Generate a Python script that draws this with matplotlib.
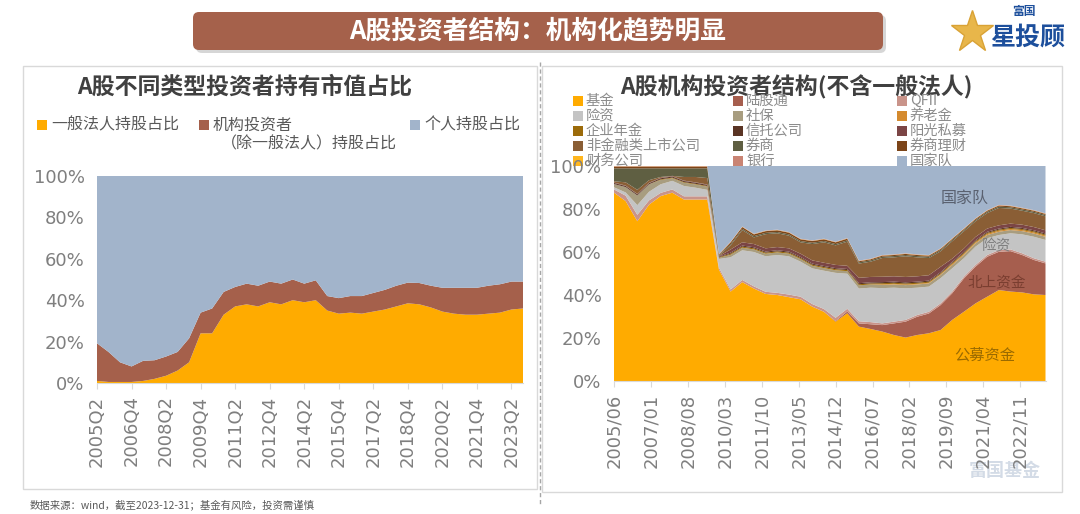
import numpy as np
import matplotlib
matplotlib.use('Agg')
from matplotlib import pyplot as plt
from matplotlib.patches import FancyBboxPatch, Rectangle

plt.rcParams['font.family'] = ['Noto Sans CJK SC', 'DejaVu Sans']

# ---------------- left chart: holdings share by investor type (semiannual) ----------------
left_periods = [f'{y}Q{q}' for y in range(2005, 2024) for q in (2, 4)]
left_ticks = ['2005Q2', '2006Q4', '2008Q2', '2009Q4', '2011Q2', '2012Q4', '2014Q2',
              '2015Q4', '2017Q2', '2018Q4', '2020Q2', '2021Q4', '2023Q2']
corp_share = [1, 0.5, 0.5, 0.5, 1, 2, 3.5, 6, 10, 24, 24, 33, 37, 38, 37, 39, 38, 40, 39,
              40, 35, 33.5, 34, 33.5, 34.5, 35.5, 37, 38.5, 38, 36.5, 34.5, 33.5, 33, 33,
              33.5, 34, 35.5, 36]
inst_share = [18.2, 14.5, 9.5, 7.5, 9.7, 9, 9.3, 9, 11.6, 10, 12, 11, 9.4, 10, 10, 10, 10,
              10, 9, 9.6, 7, 7.5, 8, 8.5, 9, 9.5, 10, 10, 10.3, 10.5, 11.5, 12.5, 13, 13,
              13.5, 13.7, 13.5, 13]
retail_share = [80.8, 85, 90, 92, 89.3, 89, 87.2, 85, 78.4, 66, 64, 56, 53.6, 52, 53, 51,
                52, 50, 52, 50.4, 58, 59, 58, 58, 56.5, 55, 53, 51.5, 51.7, 53, 54, 54, 54,
                54, 53, 52.3, 51, 51]
left_names = ['一般法人持股占比', '机构投资者\n（除一般法人）持股占比', '个人持股占比']
left_colors = ['#FFAB00', '#A5604B', '#A2B4CB']

# ---------------- right chart: institutional structure (semiannual) ----------------
right_dates = [f'{y}/{m:02d}' for y in range(2005, 2024) for m in (6, 12)]
right_ticks = ['2005/06', '2007/01', '2008/08', '2010/03', '2011/10', '2013/05', '2014/12',
               '2016/07', '2018/02', '2019/09', '2021/04', '2022/11']

fund = [87.6, 83.7, 74.3, 82, 86, 87.6, 84.4, 84.4, 84.4, 52, 42.5, 46, 43, 40.5, 40, 39,
        38, 34.6, 32.2, 27.6, 31.5, 25.3, 24.2, 23, 21.4, 20.2, 21.4, 22.2, 23.7, 28.4,
        32.2, 36.1, 39.2, 42.3, 41.6, 41.2, 40.3, 40]
hk_connect = [0, 0, 0, 0, 0, 0, 0, 0, 0, 0, 0, 0, 0, 0, 0, 0, 0, 0, 0, 0.3, 0.8, 1.5, 2.2,
              3, 5.4, 7.4, 8.5, 9.2, 11.6, 12.4, 15.5, 17.1, 18.6, 17.8, 18.8, 17.4, 16, 14.7]
qfii = [1.5, 2.5, 3, 2, 1.5, 1.5, 1.5, 1.5, 1.5, 1, 1, 1, 1, 1, 1, 1.2, 1.2, 1.2, 1.3, 1.5,
        1.3, 1, 1, 0.8, 0.8, 0.8, 0.8, 0.8, 0.8, 0.8, 0.8, 0.8, 0.8, 0.8, 0.8, 0.8, 0.8, 0.8]
insurance = [1, 1.5, 4.5, 4, 4, 4, 4.8, 4, 3, 4, 15.3, 13.8, 16, 16.5, 17.6, 17.8, 16.3,
             16.6, 17.8, 20.9, 16.3, 15.2, 16, 16.4, 15.8, 14.7, 12.7, 11.7, 11.7, 10.8,
             8.6, 8.5, 7.8, 7, 7.5, 8.8, 10, 10.1]
social_sec = [1.5, 2.5, 4.5, 3.5, 2, 1.2, 1.5, 1.5, 1.5, 0.5, 1.2, 1.2, 1.2, 1.2, 1.2, 1.2,
              1.2, 1.2, 1.2, 1.2, 1.2, 1.5, 1.5, 1.5, 1.5, 1.5, 1.5, 1.5, 1.5, 1.5, 1.5,
              1.5, 1.5, 1.5, 1.5, 1.5, 1.5, 1.5]
pension = [0, 0, 0, 0, 0, 0, 0, 0, 0, 0, 0, 0, 0, 0, 0, 0, 0, 0, 0, 0, 0, 0, 0, 0.3, 0.3,
           0.3, 0.3, 0.3, 0.3, 0.5, 0.5, 0.5, 0.5, 0.5, 0.5, 0.5, 0.5, 0.5]
annuity = [0, 0, 0, 0, 0.3, 0.3, 0.3, 0.3, 0.3, 0.3, 0.5, 0.5, 0.5, 0.5, 0.5, 0.5, 0.5, 0.5,
           0.5, 0.5, 0.5, 0.5, 0.5, 0.5, 0.5, 0.5, 0.5, 0.5, 0.5, 0.5, 0.5, 0.5, 0.5, 0.5,
           0.5, 0.5, 0.5, 0.5]
trust = [0.5, 0.5, 0.5, 0.5, 0.5, 0.5, 0.5, 0.5, 0.5, 0.3, 0.5, 0.5, 0.5, 0.5, 0.5, 0.5,
         0.5, 0.5, 0.5, 0.5, 0.5, 0.5, 0.5, 0.5, 0.5, 0.5, 0.5, 0.5, 0.5, 0.5, 0.5, 0.5,
         0.5, 0.5, 0.5, 0.5, 0.5, 0.5]
private_fund = [0.2, 0.2, 0.2, 0.2, 0.2, 0.2, 0.2, 0.2, 0.2, 0.2, 1.5, 1.5, 1.5, 1.5, 1.5,
                1.5, 1.5, 1.5, 1.5, 1.5, 1.5, 2.5, 2.5, 2.5, 2.5, 2.5, 2.5, 2.5, 2.5, 1.5,
                1.5, 1.5, 1.5, 1.5, 1.5, 1.5, 1.5, 1.5]
nonfin_corp = [0.6, 1.5, 1.9, 1.2, 0.4, 0.1, 1.7, 2.5, 3.0, 0.3, 2, 5.7, 3.1, 6.6, 6.4, 5.9,
               5.3, 7.6, 9.5, 9.1, 11.2, 6.6, 7.1, 8.7, 8.8, 9.6, 8.8, 8, 7.2, 8.1, 8, 7.3,
               7.2, 8.1, 7, 6.5, 6.5, 6.5]
broker = [6, 6.5, 10, 5.5, 4, 3.5, 4, 4, 4.5, 0.3, 0.6, 0.6, 0.6, 0.6, 0.6, 0.6, 0.6, 0.6,
          0.6, 0.6, 0.6, 0.6, 0.6, 0.6, 0.6, 0.6, 0.6, 0.6, 0.6, 0.6, 0.6, 0.6, 0.6, 0.6,
          0.6, 0.6, 0.6, 0.6]
broker_am = [0.8, 0.8, 0.8, 0.8, 0.8, 0.8, 0.8, 0.8, 0.8, 0.2, 0.8, 0.8, 0.8, 0.8, 0.8,
             0.8, 0.8, 0.8, 0.8, 0.8, 0.8, 0.5, 0.5, 0.5, 0.5, 0.5, 0.5, 0.5, 0.5, 0.5,
             0.5, 0.5, 0.5, 0.5, 0.5, 0.5, 0.5, 0.5]
finance_co = [0.1, 0.1, 0.1, 0.1, 0.1, 0.1, 0.1, 0.1, 0.1, 0.1, 0.1, 0.1, 0.1, 0.1, 0.1,
              0.1, 0.1, 0.1, 0.1, 0.1, 0.1, 0.1, 0.1, 0.1, 0.1, 0.1, 0.1, 0.1, 0.1, 0.1,
              0.1, 0.1, 0.1, 0.1, 0.1, 0.1, 0.1, 0.1]
bank = [0.2, 0.2, 0.2, 0.2, 0.2, 0.2, 0.2, 0.2, 0.2, 0.2, 0.2, 0.2, 0.2, 0.2, 0.2, 0.2,
        0.2, 0.2, 0.2, 0.2, 0.2, 0.2, 0.2, 0.2, 0.2, 0.2, 0.2, 0.2, 0.2, 0.2, 0.2, 0.2,
        0.2, 0.2, 0.2, 0.2, 0.2, 0.2]
national_team = [0, 0, 0, 0, 0, 0, 0, 0, 0, 41, 36, 28.1, 31.5, 30, 29.6, 30.7, 33.8,
                 34.6, 33.8, 35.2, 33.5, 44, 43.1, 41.4, 41.1, 40.6, 41.1, 41.4, 38.3,
                 33.6, 29, 24.3, 20.5, 18.1, 18.4, 19.4, 20.5, 22]

right_names = ['基金', '陆股通', 'QFII', '险资', '社保', '养老金', '企业年金', '信托公司',
               '阳光私募', '非金融类上市公司', '券商', '券商理财', '财务公司', '银行', '国家队']
right_series = [fund, hk_connect, qfii, insurance, social_sec, pension, annuity, trust,
                private_fund, nonfin_corp, broker, broker_am, finance_co, bank, national_team]
right_colors = ['#FFAB00', '#A65E4E', '#C9948A', '#C4C4C4', '#A89D80', '#D48A2E', '#9C6B0A',
                '#5A3424', '#7B4545', '#8A5E35', '#5F5F42', '#7C4519', '#FFB61E', '#C98473',
                '#A2B4CB']


def month_index(s):
    y, m = s.split('/')
    return (int(y) - 2005) * 12 + int(m) - 6


W, H = 1080, 514
fig = plt.figure(figsize=(W / 100, H / 100), dpi=100)

# background layer in pixel coordinates
bg = fig.add_axes([0, 0, 1, 1], zorder=-1)
bg.set_xlim(0, W)
bg.set_ylim(H, 0)
bg.axis('off')

# banner
bg.add_patch(FancyBboxPatch((196, 15), 690, 38, boxstyle='round,pad=0,rounding_size=6',
                            fc='#8C8C8C', ec='none', alpha=0.35))
bg.add_patch(FancyBboxPatch((193, 12), 690, 38, boxstyle='round,pad=0,rounding_size=6',
                            fc='#A5614B', ec='none'))
bg.text(538, 31, 'A股投资者结构：机构化趋势明显', color='white', fontsize=18.5,
        fontweight='bold', ha='center', va='center')

# logo
bg.plot([972], [32], marker='*', markersize=32, color='#E8B64A', mec='#D9A235')
bg.text(1024, 12, '富国', color='#1D4F9C', fontsize=8.5, fontweight='bold',
        ha='center', va='center')
bg.text(1028, 38, '星投顾', color='#1D4F9C', fontsize=18, fontweight='bold',
        ha='center', va='center', fontstyle='italic')

# panels
bg.add_patch(Rectangle((23, 66), 514, 423, fc='none', ec='#D9D9D9', lw=1))
bg.add_patch(Rectangle((542, 66), 520, 426, fc='none', ec='#D9D9D9', lw=1))
bg.plot([540, 540], [62, 505], color='#A6A6A6', lw=1, ls=(0, (3, 2)))

# watermark
bg.text(1005, 470, '富国基金', color='#C9D3E0', fontsize=13, fontweight='bold',
        ha='center', va='center', alpha=0.8)

# panel titles
bg.text(245, 87, 'A股不同类型投资者持有市值占比', color='#404040', fontsize=16.5,
        fontweight='bold', ha='center', va='center')
bg.text(796, 87, 'A股机构投资者结构(不含一般法人)', color='#404040', fontsize=16.5,
        fontweight='bold', ha='center', va='center')

# left legend
leg_pos = [(37, 125), (199, 125), (410, 125)]
for (px, py), name, col in zip(leg_pos, left_names, left_colors):
    bg.add_patch(Rectangle((px, py - 5), 10, 10, fc=col, ec='none'))
    first, *rest = name.split('\n')
    bg.text(px + 14, py, first, color='#595959', fontsize=11.5, va='center')
    if rest:
        bg.text(px + 22, py + 19, rest[0], color='#595959', fontsize=11.5, va='center')

# right legend (row-major, 3 columns)
col_x = [577, 737, 901]
row_y = [101, 116, 131, 146, 161]
for i, (name, col) in enumerate(zip(right_names, right_colors)):
    px = col_x[i % 3]
    py = row_y[i // 3]
    bg.add_patch(Rectangle((px - 4, py - 5), 10, 10, fc=col, ec='none'))
    bg.text(px + 9, py, name, color='#8C8C8C', fontsize=10.3, va='center')

# footer
bg.text(30, 505, '数据来源：wind，截至2023-12-31；基金有风险，投资需谨慎', color='#595959',
        fontsize=7.5, va='center')


def style_axes(ax):
    for side in ['top', 'right', 'left']:
        ax.spines[side].set_visible(False)
    ax.spines['bottom'].set_color('#D9D9D9')
    ax.set_facecolor('none')
    ax.set_ylim(0, 100)
    ax.set_yticks([0, 20, 40, 60, 80, 100])
    ax.set_yticklabels(['0%', '20%', '40%', '60%', '80%', '100%'])
    ax.tick_params(axis='y', length=0, pad=9, labelsize=13, labelcolor='#7F7F7F')
    ax.tick_params(axis='x', length=4, color='#D9D9D9', pad=5, labelsize=13,
                   labelcolor='#7F7F7F', labelrotation=90)
    for lab in ax.get_xticklabels() + ax.get_yticklabels():
        lab.set_family('DejaVu Sans')


# left axes
ax1 = fig.add_axes([97 / W, 1 - 383 / H, 426 / W, 207 / H])
lx = np.arange(len(left_periods))
ax1.stackplot(lx, corp_share, inst_share, retail_share, colors=left_colors, lw=0)
ax1.set_xlim(0, len(left_periods) - 1)
ax1.set_xticks([left_periods.index(t) for t in left_ticks])
ax1.set_xticklabels(left_ticks)
style_axes(ax1)

# right axes (100% stacked)
ax2 = fig.add_axes([614 / W, 1 - 381 / H, 431.5 / W, 215 / H])
rx = np.array([month_index(d) for d in right_dates])
vals = np.array(right_series, dtype=float)
vals = vals / vals.sum(axis=0) * 100
ax2.stackplot(rx, vals, colors=right_colors, lw=0)
ax2.set_xlim(rx[0], rx[-1])
ax2.set_xticks([month_index(t) for t in right_ticks])
ax2.set_xticklabels(right_ticks)
style_axes(ax2)

ax2.text(180.6, 85.1, '国家队', color='#5A6170', fontsize=11.5, ha='center', va='center')
ax2.text(196.9, 62.8, '险资', color='#7F7F7F', fontsize=10.5, ha='center', va='center')
ax2.text(196.9, 45.6, '北上资金', color='#7A3E30', fontsize=10.5, ha='center', va='center')
ax2.text(190.9, 12.1, '公募资金', color='#9A6A00', fontsize=11, ha='center', va='center')

fig.savefig('out.png', dpi=100)
